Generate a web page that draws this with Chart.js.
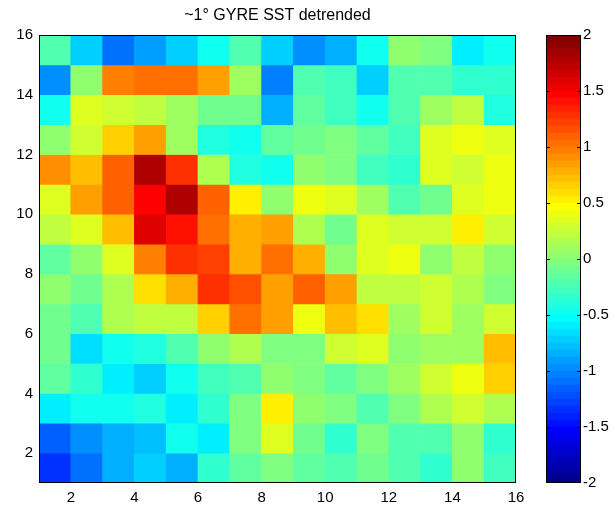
<!DOCTYPE html>
<html><head><meta charset="utf-8">
<script src="https://cdn.jsdelivr.net/npm/chart.js@4/dist/chart.umd.min.js"></script>
<style>
html,body{margin:0;padding:0;background:#fff;}
#wrap{position:relative;width:615px;height:508px;overflow:hidden;background:#fff;}
#main{position:absolute;left:0;top:0;}
#cb{position:absolute;left:530px;top:0;}
</style></head><body>
<div id="wrap"><canvas id="main" width="555" height="508"></canvas><canvas id="cb" width="85" height="508"></canvas></div>
<script>
// ---- data ----
const chartTitle = '~1\u00B0 GYRE SST detrended';
const colLabels = ['1','2','3','4','5','6','7','8','9','10','11','12','13','14','15'];
const rowStarts = [15,14,13,12,11,10,9,8,7,6,5,4,3,2,1];
// one row per y band (top to bottom), one value per x cell (left to right)
const sstRows = [
  [-0.25,-0.70,-1.10,-0.90,-0.70,-0.50,-0.23,-0.75,-0.95,-0.85,-0.50, 0.00,-0.05,-0.60,-0.50],
  [-0.95, 0.05, 0.95, 1.00, 1.00, 0.87, 0.08,-1.05,-0.25,-0.30,-0.70,-0.23,-0.20,-0.35,-0.35],
  [-0.50, 0.37, 0.30, 0.20, 0.08,-0.10,-0.10,-0.85,-0.17,-0.30,-0.50,-0.23, 0.10, 0.20,-0.40],
  [ 0.05, 0.25, 0.65, 0.85, 0.08,-0.43,-0.50,-0.17,-0.12,-0.05,-0.17,-0.30, 0.35, 0.43, 0.37],
  [ 0.90, 0.70, 1.10, 1.75, 1.30, 0.13,-0.43,-0.50, 0.00,-0.03,-0.30,-0.37, 0.37, 0.25, 0.43],
  [ 0.37, 0.87, 1.12, 1.45, 1.75, 1.12, 0.50, 0.00, 0.43, 0.32, 0.10,-0.25,-0.10, 0.35, 0.43],
  [ 0.20, 0.37, 0.70, 1.57, 1.43, 1.05, 0.75, 0.87, 0.13,-0.12, 0.37, 0.30, 0.25, 0.50, 0.25],
  [-0.17, 0.05, 0.35, 0.95, 1.25, 1.23, 0.75, 1.00, 0.75, 0.05, 0.37, 0.43, 0.05, 0.20, 0.00],
  [ 0.00,-0.07, 0.13, 0.58, 0.78, 1.30, 1.17, 0.85, 1.08, 0.87, 0.20, 0.20, 0.30, 0.13,-0.05],
  [-0.10,-0.23, 0.13, 0.20, 0.20, 0.63, 1.05, 0.83, 0.43, 0.70, 0.60, 0.10, 0.30, 0.07, 0.30],
  [-0.10,-0.65,-0.50,-0.40,-0.23, 0.00, 0.15,-0.05,-0.03, 0.30, 0.37, 0.00, 0.10, 0.10, 0.70],
  [-0.17,-0.37,-0.60,-0.75,-0.50,-0.30,-0.25, 0.00,-0.03,-0.15,-0.05, 0.10, 0.30, 0.43, 0.65],
  [-0.60,-0.50,-0.50,-0.40,-0.60,-0.35,-0.05, 0.50, 0.05,-0.05,-0.20,-0.05, 0.15, 0.30, 0.13],
  [-1.15,-0.95,-0.85,-0.78,-0.50,-0.57,-0.05, 0.35,-0.10,-0.37,-0.05,-0.23,-0.23, 0.00,-0.37],
  [-1.37,-1.08,-0.85,-0.75,-0.82,-0.37,-0.15,-0.05,-0.15,-0.25,-0.10,-0.23,-0.37, 0.00,-0.30]
];
const xTicks = [2,4,6,8,10,12,14,16];
const yTicks = [2,4,6,8,10,12,14,16];
const cbTicks = [-2,-1.5,-1,-0.5,0,0.5,1,1.5,2];
const cLimits = [-2, 2];
const nLevels = 64;

// ---- jet colormap (MATLAB style, 64 levels) ----
function jet(v){
  let t = (v - cLimits[0]) / (cLimits[1] - cLimits[0]);
  let k = Math.floor(t * nLevels);
  k = Math.max(0, Math.min(nLevels - 1, k));
  const s = (k + 1) / nLevels;
  const f = c => Math.round(255 * Math.min(1, Math.max(0, 1.5 - Math.abs(4 * s - c))));
  return 'rgb(' + f(3) + ',' + f(2) + ',' + f(1) + ')';
}

const FAMILY = "'Liberation Sans', Arial, Helvetica, sans-serif";
const FONT = {family: FAMILY, size: 15};
Chart.defaults.font.family = FAMILY;
Chart.defaults.color = '#000';

const frame = {
  id: 'frame',
  afterDatasetsDraw(chart){
    const {ctx, chartArea: a} = chart;
    ctx.save();
    ctx.strokeStyle = '#000';
    ctx.lineWidth = 1;
    ctx.strokeRect(a.left + 0.5, a.top + 0.5, a.width - 1, a.height - 1);
    ctx.restore();
  }
};

// ---- main heat map ----
const mainDatasets = rowStarts.map((r, i) => ({
  label: 'y' + r,
  data: sstRows[i].map(() => [r, r + 1]),
  backgroundColor: sstRows[i].map(v => jet(v)),
  borderWidth: 0,
  xAxisID: 'xc',
  yAxisID: 'y',
  categoryPercentage: 1,
  barPercentage: 1
}));

new Chart(document.getElementById('main'), {
  type: 'bar',
  data: {labels: colLabels, datasets: mainDatasets},
  options: {
    responsive: false,
    animation: false,
    events: [],
    layout: {padding: 0},
    plugins: {
      legend: {display: false},
      tooltip: {enabled: false},
      title: {display: true, text: chartTitle, color: '#000',
        font: {family: FAMILY, size: 16, weight: 'normal'},
        padding: {top: 6.4, bottom: 9.4}}
    },
    scales: {
      xc: {type: 'category', display: false, stacked: true, offset: true,
        afterFit(s){ s.height = 0; }},
      x: {type: 'linear', position: 'bottom', min: 1, max: 16, offset: false,
        grid: {display: false, drawTicks: false, offset: false},
        border: {display: false},
        ticks: {font: FONT, color: '#000', padding: 6, maxRotation: 0, autoSkip: false, callback: v => String(v)},
        afterBuildTicks(s){ s.ticks = xTicks.map(v => ({value: v})); },
        afterFit(s){ s.height = 25; }},
      y: {type: 'linear', position: 'left', min: 1, max: 16, stacked: false,
        grid: {display: false, drawTicks: false},
        border: {display: false},
        ticks: {font: FONT, color: '#000', padding: 6, autoSkip: false, callback: v => String(v)},
        afterBuildTicks(s){ s.ticks = yTicks.map(v => ({value: v})); },
        afterFit(s){ s.width = 39; }},
      ySpacer: {type: 'linear', position: 'right', min: 1, max: 16,
        grid: {display: false, drawTicks: false},
        border: {display: false},
        ticks: {display: false},
        afterFit(s){ s.width = 39; }}
    }
  },
  plugins: [frame]
});

// ---- colour bar ----
const step = (cLimits[1] - cLimits[0]) / nLevels;
const cbDatasets = [];
for (let k = 0; k < nLevels; k++) {
  const lo = cLimits[0] + k * step;
  cbDatasets.push({
    label: 'c' + k,
    data: [[lo, lo + step]],
    backgroundColor: jet(lo + step / 2),
    borderWidth: 0,
    categoryPercentage: 1,
    barPercentage: 1
  });
}
const cbFrame = {
  id: 'cbFrame',
  afterDatasetsDraw(chart){
    const {ctx, chartArea: a} = chart;
    const ys = chart.scales.y;
    ctx.save();
    ctx.strokeStyle = '#000';
    ctx.lineWidth = 1;
    ctx.strokeRect(a.left + 0.5, a.top + 0.5, a.width - 1, a.height - 1);
    ctx.beginPath();
    cbTicks.forEach(v => {
      if (v <= cLimits[0] || v >= cLimits[1]) return;
      const y = Math.round(ys.getPixelForValue(v)) + 0.5;
      ctx.moveTo(a.left, y); ctx.lineTo(a.left + 4, y);
      ctx.moveTo(a.right - 4, y); ctx.lineTo(a.right, y);
    });
    ctx.stroke();
    ctx.restore();
  }
};
new Chart(document.getElementById('cb'), {
  type: 'bar',
  data: {labels: ['c'], datasets: cbDatasets},
  options: {
    responsive: false,
    animation: false,
    events: [],
    layout: {padding: {left: 16, right: 0, top: 35, bottom: 25}},
    plugins: {legend: {display: false}, tooltip: {enabled: false}, title: {display: false}},
    scales: {
      x: {type: 'category', display: false, stacked: true, offset: true},
      y: {type: 'linear', position: 'right', min: cLimits[0], max: cLimits[1], stacked: false,
        grid: {display: false, drawTicks: false},
        border: {display: false},
        ticks: {font: FONT, color: '#000', padding: 2, autoSkip: false, callback: v => String(v)},
        afterBuildTicks(s){ s.ticks = cbTicks.map(v => ({value: v})); },
        afterFit(s){ s.width = 34; }}
    }
  },
  plugins: [cbFrame]
});
</script>
</body></html>
